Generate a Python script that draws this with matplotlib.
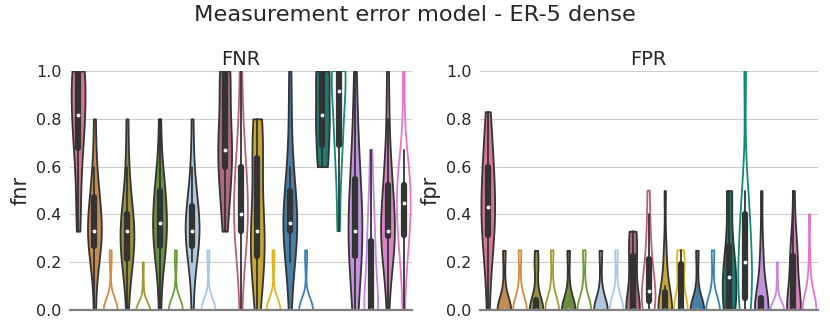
import numpy as np
import pandas as pd
import matplotlib
matplotlib.use("Agg")
import matplotlib.pyplot as plt
import seaborn as sns

# one colour per slot, 21 slots (first slot has no outline partner)
colors = ["#e3698a",
          "#d48c40", "#d48c40",
          "#a59a32", "#a59a32",
          "#6b9c35", "#6b9c35",
          "#a6c8ea", "#a6c8ea",
          "#b85f7e", "#b85f7e",
          "#dcb51f", "#dcb51f",
          "#3a80b5", "#3a80b5",
          "#0f8a78", "#0f8a78",
          "#c585ea", "#c585ea",
          "#e575cc", "#e575cc"]
filled_slots = [0, 1, 3, 5, 7, 9, 11, 13, 15, 17, 19]
outline_slots = [2, 4, 6, 8, 10, 12, 14, 16, 18, 20]

fnr = [
    [0.33, 0.4, 0.5, 0.6, 0.67, 0.7, 0.75, 0.8, 0.8, 0.83, 0.85, 0.9, 1, 1, 1, 1, 1, 1],
    [0, 0.2, 0.25, 0.25, 0.33, 0.33, 0.33, 0.33, 0.4, 0.4, 0.5, 0.5, 0.6, 0.8],
    [0] * 12 + [0.2, 0.25],
    [0, 0.2, 0.2, 0.2, 0.25, 0.33, 0.33, 0.33, 0.33, 0.4, 0.4, 0.5, 0.6, 0.8],
    [0] * 12 + [0.1, 0.2],
    [0, 0.2, 0.25, 0.25, 0.33, 0.33, 0.33, 0.4, 0.4, 0.5, 0.5, 0.5, 0.6, 0.8],
    [0] * 12 + [0.2, 0.25],
    [0, 0.2, 0.25, 0.25, 0.33, 0.33, 0.33, 0.33, 0.4, 0.4, 0.45, 0.5, 0.6, 0.8],
    [0] * 12 + [0.2, 0.25],
    [0.33, 0.4, 0.5, 0.5, 0.6, 0.6, 0.67, 0.67, 0.67, 0.75, 0.8, 0.8, 1, 1, 1, 1, 1],
    [0, 0.2, 0.25, 0.33, 0.33, 0.4, 0.4, 0.4, 0.5, 0.5, 0.6, 0.6, 0.67, 0.8, 1.0],
    [0, 0.1, 0.2, 0.2, 0.25, 0.33, 0.33, 0.33, 0.4, 0.6, 0.6, 0.67, 0.75, 0.8, 0.8],
    [0] * 12 + [0.2, 0.25],
    [0, 0.2, 0.25, 0.33, 0.33, 0.33, 0.33, 0.4, 0.4, 0.5, 0.5, 0.6, 0.8, 1.0],
    [0] * 12 + [0.2, 0.25],
    [0.6, 0.6, 0.6, 0.67, 0.75, 0.8, 0.8, 0.83, 0.83, 1, 1, 1, 1, 1],
    [0.33, 0.5, 0.67, 0.67, 0.75, 0.8, 0.83, 1, 1, 1, 1, 1, 1, 1],
    [0, 0, 0.2, 0.2, 0.25, 0.33, 0.33, 0.33, 0.4, 0.5, 0.5, 0.6, 0.67, 0.8, 1.0],
    [0] * 8 + [0.2, 0.25, 0.25, 0.33, 0.4, 0.5, 0.67],
    [0, 0.2, 0.25, 0.25, 0.33, 0.33, 0.33, 0.33, 0.33, 0.4, 0.5, 0.5, 0.6, 0.6, 0.8, 1.0],
    [0, 0.2, 0.25, 0.3, 0.33, 0.4, 0.4, 0.45, 0.5, 0.5, 0.5, 0.55, 0.6, 0.67, 1.0],
]

fpr = [
    [0, 0.17, 0.25, 0.3, 0.33, 0.4, 0.4, 0.43, 0.5, 0.5, 0.6, 0.6, 0.67, 0.75, 0.83],
    [0] * 11 + [0.125, 0.25, 0.25],
    [0] * 11 + [0.125, 0.25, 0.25],
    [0] * 9 + [0.17, 0.2, 0.25],
    [0] * 11 + [0.125, 0.25, 0.25],
    [0] * 11 + [0.125, 0.25, 0.25],
    [0] * 11 + [0.125, 0.25, 0.25],
    [0] * 11 + [0.125, 0.25, 0.25],
    [0] * 11 + [0.125, 0.25, 0.25],
    [0] * 8 + [0.14, 0.2, 0.2, 0.25, 0.33, 0.33, 0.33],
    [0, 0, 0, 0, 0.05, 0.07, 0.07, 0.08, 0.08, 0.1, 0.17, 0.2, 0.25, 0.3, 0.4, 0.5],
    [0] * 10 + [0.1, 0.2, 0.25, 0.5],
    [0] * 8 + [0.1, 0.17, 0.2, 0.2, 0.25, 0.25],
    [0] * 11 + [0.125, 0.25, 0.25],
    [0] * 11 + [0.125, 0.25, 0.25],
    [0, 0, 0, 0, 0, 0.1, 0.14, 0.14, 0.14, 0.17, 0.2, 0.25, 0.33, 0.5, 0.5, 0.5],
    [0, 0, 0, 0, 0.1, 0.14, 0.17, 0.2, 0.2, 0.25, 0.4, 0.4, 0.4, 0.5, 1.0],
    [0] * 9 + [0.2, 0.25, 0.5],
    [0] * 11 + [0.1, 0.2],
    [0] * 8 + [0.1, 0.17, 0.2, 0.25, 0.25, 0.33, 0.5],
    [0] * 11 + [0.1, 0.2, 0.4],
]


def long_table(groups):
    rows = []
    for slot, vals in enumerate(groups):
        for v in vals:
            rows.append((slot, v))
    return pd.DataFrame(rows, columns=["slot", "value"])


sns.set_style("whitegrid")
plt.rcParams["font.family"] = ["DejaVu Sans"]
plt.rcParams["text.color"] = "#262626"

fig = plt.figure(figsize=(8.3, 3.32), dpi=100)
ax1 = fig.add_axes([0.0843, 0.066, 0.412, 0.72])
ax2 = fig.add_axes([0.578, 0.066, 0.407, 0.72])

palette = {i: c for i, c in enumerate(colors)}
order = list(range(len(colors)))
dark = "#333333"

for ax, groups, title, ylab in [(ax1, fnr, "FNR", "fnr"), (ax2, fpr, "FPR", "fpr")]:
    df = long_table(groups)
    common = dict(x="slot", y="value", hue="slot", order=order, hue_order=order,
                  palette=palette, legend=False, cut=0, density_norm="width",
                  width=0.85, linewidth=1.3, ax=ax)
    sns.violinplot(data=df[df.slot.isin(filled_slots)], fill=True,
                   linecolor=dark,
                   inner_kws=dict(box_width=4.5, whis_width=1.3, marker="."),
                   **common)
    sns.violinplot(data=df[df.slot.isin(outline_slots)], fill=False,
                   inner_kws=dict(box_width=4.5, whis_width=1.3, marker=".", color=dark),
                   **common)
    ax.set_ylim(0, 1)
    ax.set_xlim(-0.5, len(colors) - 0.5)
    ax.set_xticks([])
    ax.set_xlabel("")
    ax.set_ylabel(ylab, fontsize=15)
    ax.set_title(title, fontsize=14, pad=4)
    ax.tick_params(axis="y", labelsize=11.5, length=0, pad=6)
    ax.grid(axis="x", visible=False)
    for s in ["left", "right", "top"]:
        ax.spines[s].set_visible(False)
    ax.spines["bottom"].set_color("#808080")
    ax.spines["bottom"].set_linewidth(1.6)

fig.suptitle("Measurement error model - ER-5 dense", fontsize=16.2, y=0.985)
fig.savefig("out.png", dpi=100)
